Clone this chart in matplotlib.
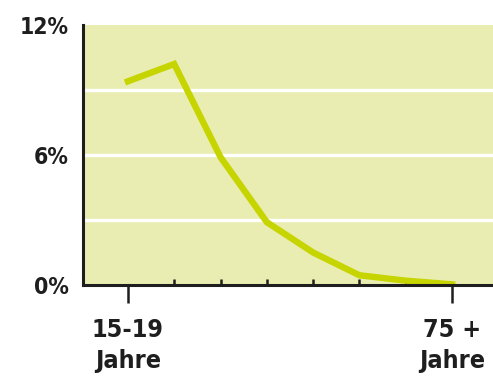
import matplotlib.pyplot as plt
from matplotlib.ticker import FixedLocator

# share per age group, 15-19 up to 75+
age_groups = ['15-19\nJahre', '', '', '', '', '', '', '75 +\nJahre']
share = [9.4, 10.2, 5.9, 2.9, 1.5, 0.45, 0.2, 0.03]
y_ticks = [0, 6, 12]
y_labels = ['0%', '6%', '12%']
grid_vals = [3, 6, 9]

bg = '#e9edb1'
line_col = '#c6d400'
ink = '#1e1e1e'

fig = plt.figure(figsize=(4.93, 3.81), dpi=100)
ax = fig.add_axes([83 / 493, 96 / 381, 410 / 493, 260 / 381])
ax.set_facecolor(bg)

xs = list(range(len(share)))
for g in grid_vals:
    ax.axhline(g, color='white', lw=2.4, zorder=1)
ax.plot(xs, share, color=line_col, lw=4.6, solid_joinstyle='miter', zorder=3)

ax.set_xlim(-0.97, 7.885)
ax.set_ylim(0, 12)

for s in ['top', 'right']:
    ax.spines[s].set_visible(False)
for s in ['left', 'bottom']:
    ax.spines[s].set_color(ink)
    ax.spines[s].set_linewidth(2.2)
    ax.spines[s].set_zorder(4)

font = dict(family='DejaVu Sans', stretch='condensed', weight='bold', color=ink)

ax.set_yticks(y_ticks)
ax.set_yticklabels(y_labels, size=16.5, **font)
ax.tick_params(axis='y', length=0, pad=10)

ax.xaxis.set_major_locator(FixedLocator([0, 7]))
ax.set_xticklabels([age_groups[0], age_groups[7]], size=18, linespacing=1.35, **font)
ax.xaxis.set_minor_locator(FixedLocator(xs))
ax.tick_params(axis='x', which='major', direction='out', length=13, width=1.8, color=ink, pad=11)
ax.tick_params(axis='x', which='minor', direction='in', length=4, width=1.8, color=ink)

fig.savefig('out.png', dpi=100)
